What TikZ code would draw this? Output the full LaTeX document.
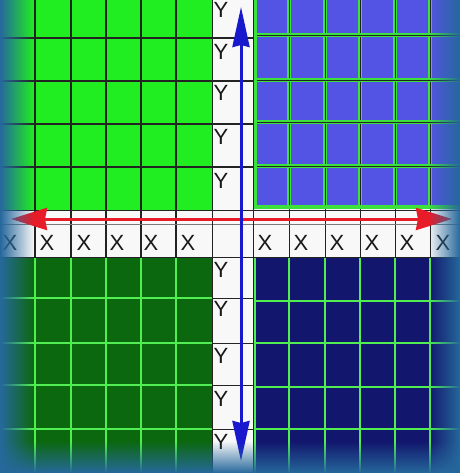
\documentclass[tikz,border=0pt]{standalone}
\usepackage{fontspec}
\setmainfont{Liberation Sans}
\usetikzlibrary{arrows.meta,fadings}
\definecolor{qtl}{RGB}{32,238,32}
\definecolor{qtr}{RGB}{84,84,228}
\definecolor{qbl}{RGB}{12,104,14}
\definecolor{qbr}{RGB}{18,22,108}
\definecolor{gline}{RGB}{60,225,60}
\definecolor{glineb}{RGB}{80,238,80}
\definecolor{darkline}{RGB}{35,35,35}
\definecolor{edgeblue}{RGB}{38,104,156}
\definecolor{redarrow}{RGB}{232,28,40}
\definecolor{bluearrow}{RGB}{24,24,205}
\definecolor{stripwhite}{RGB}{248,248,248}
\tikzfading[name=fadeL, left color=transparent!0, right color=transparent!100]
\tikzfading[name=fadeR, left color=transparent!100, right color=transparent!0]
\tikzfading[name=fadeB, top color=transparent!100, bottom color=transparent!0]
\begin{document}
\begin{tikzpicture}[x=1pt,y=-1pt,
  tlgrid/.style={draw=darkline, line width=1.1pt},
  cellline/.style={draw=darkline, line width=0.9pt},
  trgrid/.style={draw=gline, line width=3.6pt},
  trcore/.style={draw=darkline, line width=0.6pt},
  bgrid/.style={draw=glineb, line width=1.8pt},
  lbl/.style={font=\fontsize{22}{22}\selectfont, text=black!90, inner sep=0pt},
  redarr/.style={draw=redarrow, line width=3pt, {Stealth[length=36pt,width=22pt,inset=2pt]}-{Stealth[length=36pt,width=22pt,inset=2pt]}},
  bluearr/.style={draw=bluearrow, line width=3pt, {Stealth[length=40pt,width=17pt,inset=2pt]}-{Stealth[length=40pt,width=17pt,inset=2pt]}}
]
\useasboundingbox (0,0) rectangle (460,473);
% background strips
\fill[stripwhite] (0,0) rectangle (460,473);
% quadrants
\fill[qtl] (0,0) rectangle (212,210);
\fill[qtr] (253,0) rectangle (460,209);
\fill[qbl] (0,257) rectangle (212,473);
\fill[qbr] (253,257) rectangle (460,473);
% TL grid (dark lines) continuing through strips
\foreach \x in {35,71,106,141,176}
  \draw[tlgrid] (\x,0) -- (\x,257);
\foreach \y in {38,81,124,167}
  \draw[tlgrid] (0,\y) -- (253,\y);
% TR grid
\foreach \x in {289,325,360,395,430} {
  \draw[trgrid] (\x,0) -- (\x,208);
  \draw[trcore] (\x,0) -- (\x,208);
  \draw[cellline] (\x,208) -- (\x,257);
}
\foreach \y in {35,80,122,166} {
  \draw[trgrid] (253,\y) -- (460,\y);
  \draw[trcore] (253,\y) -- (460,\y);
}
\draw[trgrid] (255,0) -- (255,207) -- (460,207);
% BL grid
\foreach \x in {35,71,106,141,176}
  \draw[bgrid] (\x,257) -- (\x,473);
\foreach \y in {298,343,385,429} {
  \draw[bgrid, line width=1.4pt] (0,\y) -- (212,\y);
  \draw[cellline] (212,\y) -- (253,\y);
}
% BR grid
\foreach \x in {289,325,360,395,430}
  \draw[bgrid, line width=2.6pt] (\x,257) -- (\x,473);
\foreach \y in {301,343,387,429}
  \draw[bgrid, line width=2.2pt] (253,\y) -- (460,\y);
\draw[bgrid, line width=2.6pt] (254.5,258) -- (254.5,473);
% strip borders
\draw[cellline] (0,210) -- (460,210);
\draw[cellline, draw=darkline!60] (0,224) -- (460,224);
\draw[cellline] (0,257) -- (460,257);
\draw[cellline] (212,0) -- (212,473);
\draw[cellline] (253,0) -- (253,473);
% Y labels
\foreach \n/\y in {1/10,2/52,3/93,4/137,5/181,6/270,7/309,8/356,9/399,10/442}
  \node[lbl] (y\n) at (221,\y) {Y};
% X labels
\foreach \n/\x in {1/10,2/47,3/84,4/117,5/151,6/188,7/265,8/301,9/337,10/372,11/407,12/443}
  \node[lbl] (x\n) at (\x,243) {X};
% arrows
\coordinate (rl) at (11,219);
\coordinate (rr) at (452,219);
\coordinate (bt) at (241,7);
\coordinate (bb) at (241,461);
\draw[redarr] (rl) -- (rr);
\draw[bluearr] (bb) -- (bt);
% edge vignette
\fill[edgeblue, path fading=fadeL] (0,0) rectangle (34,473);
\fill[edgeblue, path fading=fadeR] (428,0) rectangle (460,473);
\fill[edgeblue, path fading=fadeB] (0,441) rectangle (460,473);
\end{tikzpicture}
\end{document}
